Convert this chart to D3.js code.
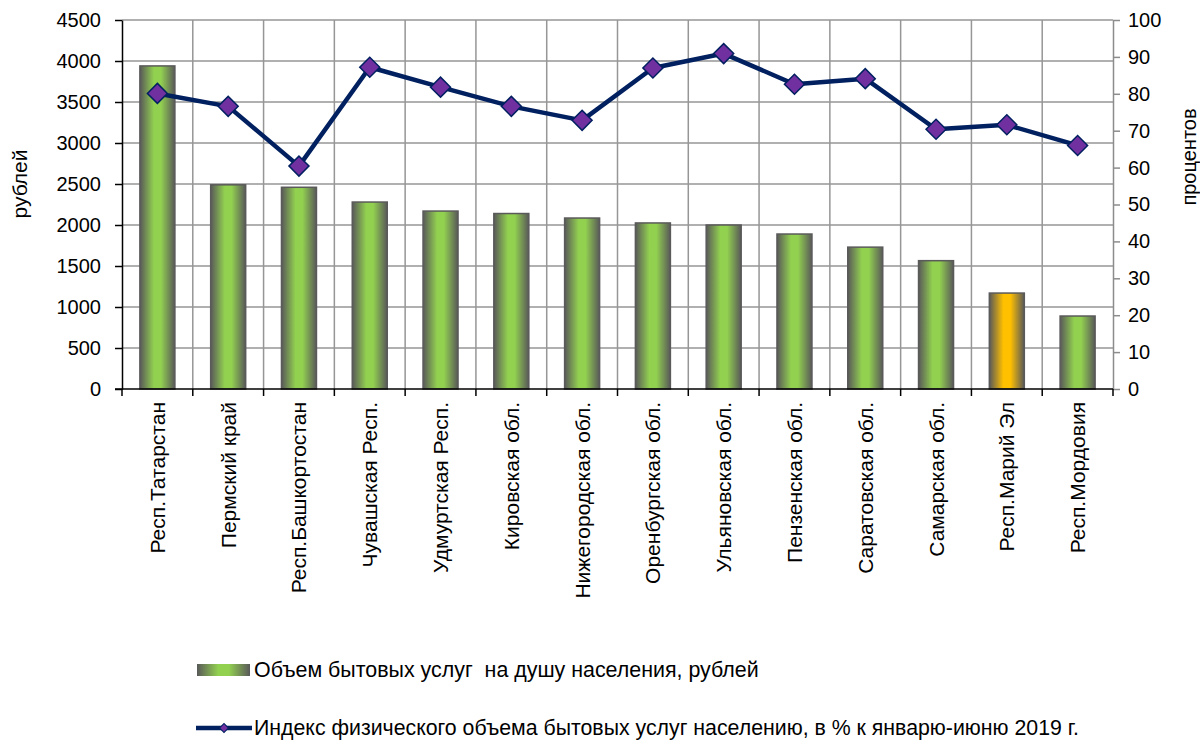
<!DOCTYPE html>
<html>
<head>
<meta charset="utf-8">
<script src="https://cdn.jsdelivr.net/npm/d3@7"></script>
<style>
  body { margin: 0; background: #fff; }
  text { font-family: "Liberation Sans", Arial, sans-serif; }
</style>
</head>
<body>
<div id="chart"></div>
<script>
var regions = ["Респ.Татарстан", "Пермский край", "Респ.Башкортостан", "Чувашская Респ.",
  "Удмуртская Респ.", "Кировская обл.", "Нижегородская обл.", "Оренбургская обл.",
  "Ульяновская обл.", "Пензенская обл.", "Саратовская обл.", "Самарская обл.",
  "Респ.Марий Эл", "Респ.Мордовия"];
var volumePerCapita = [3940, 2490, 2460, 2280, 2170, 2140, 2085, 2025, 2000, 1890, 1730, 1565, 1170, 890];
var volumeIndex = [80.1, 76.6, 60.4, 87.2, 81.8, 76.6, 72.8, 87.0, 90.9, 82.6, 84.1, 70.4, 71.6, 66.0];
var highlighted = "Респ.Марий Эл";
var leftTicks = [0, 500, 1000, 1500, 2000, 2500, 3000, 3500, 4000, 4500];
var rightTicks = [0, 10, 20, 30, 40, 50, 60, 70, 80, 90, 100];
var barLabel = "Объем бытовых услуг  на душу населения, рублей";
var lineLabel = "Индекс физического объема бытовых услуг населению, в % к январю-июню 2019 г.";

var W = 1200, H = 740;
var margin = {top: 20, right: 87, bottom: 351, left: 122};
var width = W - margin.left - margin.right;
var height = H - margin.top - margin.bottom;
var fs = 21;

var svg = d3.select("#chart").append("svg")
    .attr("width", W)
    .attr("height", H);

var defs = svg.append("defs");
function barGradient(id, mid) {
  var g = defs.append("linearGradient").attr("id", id)
      .attr("x1", "0%").attr("x2", "100%").attr("y1", "0%").attr("y2", "0%");
  g.append("stop").attr("offset", "0%").attr("stop-color", "#595959");
  g.append("stop").attr("offset", "40%").attr("stop-color", mid);
  g.append("stop").attr("offset", "60%").attr("stop-color", mid);
  g.append("stop").attr("offset", "100%").attr("stop-color", "#595959");
}
barGradient("gGreen", "#92d050");
barGradient("gGold", "#ffc000");

var g = svg.append("g")
    .attr("transform", "translate(" + margin.left + "," + margin.top + ")");

var xScale = d3.scaleBand().domain(regions).range([0, width]).paddingInner(0).paddingOuter(0);
var yLeft = d3.scaleLinear().domain([0, 4500]).range([height, 0]);
var yRight = d3.scaleLinear().domain([0, 100]).range([height, 0]);

// grid
g.append("g").selectAll("line.h").data(leftTicks.slice(1)).enter().append("line")
    .attr("x1", 0).attr("x2", width)
    .attr("y1", d => yLeft(d)).attr("y2", d => yLeft(d))
    .attr("stroke", "#969696").attr("stroke-width", 1.5);
g.append("g").selectAll("line.v").data(regions.slice(1)).enter().append("line")
    .attr("x1", d => xScale(d)).attr("x2", d => xScale(d))
    .attr("y1", 0).attr("y2", height)
    .attr("stroke", "#969696").attr("stroke-width", 1.5);

// bars
var barW = 35;
g.selectAll("rect.bar").data(regions).enter().append("rect")
    .attr("class", "bar")
    .attr("x", d => xScale(d) + xScale.bandwidth() / 2 - barW / 2)
    .attr("y", (d, i) => yLeft(volumePerCapita[i]))
    .attr("width", barW)
    .attr("height", (d, i) => height - yLeft(volumePerCapita[i]))
    .attr("fill", d => d === highlighted ? "url(#gGold)" : "url(#gGreen)")
    .attr("stroke", "#5a5a5a").attr("stroke-width", 1.5);

// axes
var leftAxis = g.append("g")
    .call(d3.axisLeft(yLeft).tickValues(leftTicks).tickFormat(d3.format("d"))
      .tickSize(7).tickPadding(14).tickSizeOuter(0));
leftAxis.select(".domain").attr("stroke", "#000").attr("stroke-width", 1.5);
leftAxis.selectAll(".tick line").attr("stroke-width", 1.5);
leftAxis.selectAll("text").attr("font-size", 20).attr("fill", "#000");

var rightAxis = g.append("g").attr("transform", "translate(" + width + ",0)")
    .call(d3.axisRight(yRight).tickValues(rightTicks).tickSize(7).tickPadding(8).tickSizeOuter(0));
rightAxis.select(".domain").attr("stroke", "#8c8c8c").attr("stroke-width", 1.5);
rightAxis.selectAll(".tick line").attr("stroke", "#8c8c8c").attr("stroke-width", 1.5);
rightAxis.selectAll("text").attr("font-size", 20).attr("fill", "#000");

var bottom = g.append("g").attr("transform", "translate(0," + height + ")");
bottom.append("line").attr("x1", -7).attr("x2", width).attr("y1", 0).attr("y2", 0)
    .attr("stroke", "#000").attr("stroke-width", 1.5);
bottom.selectAll("line.t").data(regions.concat(["end"])).enter().append("line")
    .attr("x1", (d, i) => i * xScale.step()).attr("x2", (d, i) => i * xScale.step())
    .attr("y1", 0).attr("y2", 7)
    .attr("stroke", "#000").attr("stroke-width", 1.5);
bottom.selectAll("text").data(regions).enter().append("text")
    .attr("transform", d => "translate(" + (xScale(d) + xScale.bandwidth() / 2 + 7.5) + ",13) rotate(-90)")
    .attr("text-anchor", "end")
    .attr("font-size", fs)
    .text(d => d);

// line series
var pts = regions.map((d, i) => [xScale(d) + xScale.bandwidth() / 2, yRight(volumeIndex[i])]);
g.append("path").datum(pts)
    .attr("d", d3.line())
    .attr("fill", "none").attr("stroke", "#002060").attr("stroke-width", 4.5)
    .attr("stroke-linejoin", "round");
var diamond = d3.symbol().type(d3.symbolSquare).size(200);
g.selectAll("path.mk").data(pts).enter().append("path")
    .attr("class", "mk")
    .attr("d", diamond)
    .attr("transform", d => "translate(" + d[0] + "," + d[1] + ") rotate(45)")
    .attr("fill", "#7030a0").attr("stroke", "#002060").attr("stroke-width", 1.5);

// axis titles
svg.append("text")
    .attr("transform", "translate(27,184) rotate(-90)")
    .attr("text-anchor", "middle").attr("font-size", fs).text("рублей");
svg.append("text")
    .attr("transform", "translate(1196,157) rotate(-90)")
    .attr("text-anchor", "middle").attr("font-size", 20).text("процентов");

// legend
var lg = svg.append("g");
lg.append("rect").attr("x", 197).attr("y", 664).attr("width", 53).attr("height", 12)
    .attr("fill", "url(#gGreen)");
lg.append("text").attr("x", 254).attr("y", 677).attr("font-size", 21.4)
    .style("white-space", "pre").text(barLabel);
lg.append("line").attr("x1", 196).attr("x2", 252).attr("y1", 728).attr("y2", 728)
    .attr("stroke", "#002060").attr("stroke-width", 4.5);
lg.append("path").attr("d", d3.symbol().type(d3.symbolSquare).size(40))
    .attr("transform", "translate(224,728) rotate(45)")
    .attr("fill", "#7030a0").attr("stroke", "#002060").attr("stroke-width", 1);
lg.append("text").attr("x", 254).attr("y", 735).attr("font-size", 21.3).text(lineLabel);
</script>
</body>
</html>
